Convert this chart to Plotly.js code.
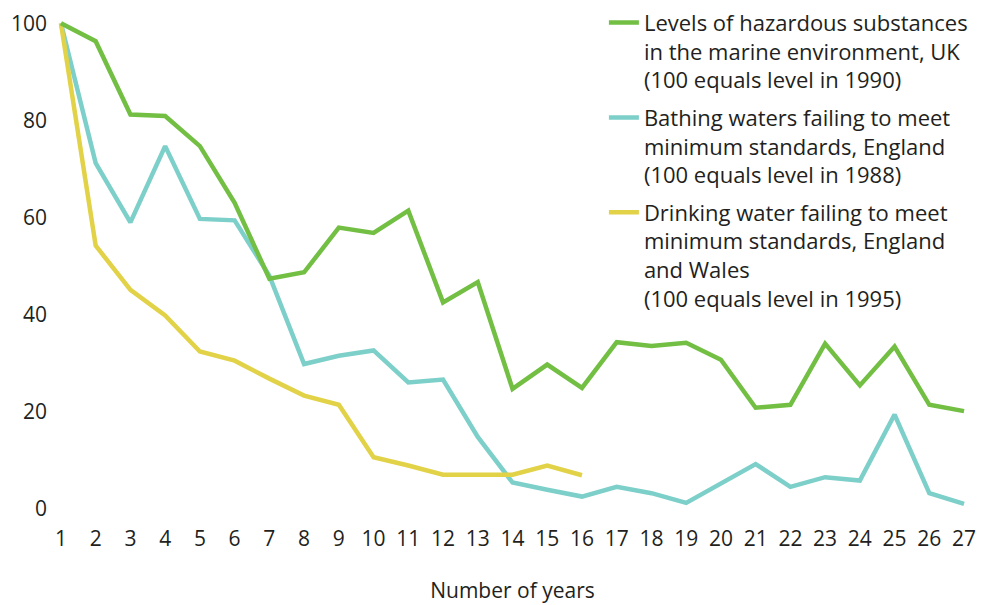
<!DOCTYPE html>
<html>
<head>
<meta charset="utf-8">
<script src="https://cdn.plot.ly/plotly-3.0.1.min.js"></script>
<style>html,body{margin:0;padding:0;background:#fff;}#chart{width:990px;height:605px;}</style>
</head>
<body>
<div id="chart"></div>
<script>
const years = [1,2,3,4,5,6,7,8,9,10,11,12,13,14,15,16,17,18,19,20,21,22,23,24,25,26,27];
const hazardous = [100, 96.3, 81.2, 80.9, 74.7, 63.0, 47.4, 48.7, 57.9, 56.8, 61.4, 42.5, 46.7, 24.7, 29.7, 24.9, 34.3, 33.5, 34.2, 30.7, 20.8, 21.4, 34.0, 25.4, 33.4, 21.4, 20.1];
const bathing = [100, 71.2, 59.0, 74.7, 59.7, 59.4, 48.0, 29.8, 31.5, 32.6, 26.0, 26.6, 14.8, 5.4, 3.9, 2.5, 4.5, 3.2, 1.2, 5.2, 9.2, 4.5, 6.5, 5.8, 19.4, 3.2, 1.0];
const drinking = [100, 54.2, 45.1, 39.8, 32.4, 30.5, 26.8, 23.3, 21.4, 10.6, 8.9, 7.0, 7.0, 7.0, 8.9, 6.9];
const seriesNames = [
  "Levels of hazardous substances<br>in the marine environment, UK<br>(100 equals level in 1990)",
  "Bathing waters failing to meet<br>minimum standards, England<br>(100 equals level in 1988)",
  "Drinking water failing to meet<br>minimum standards, England<br>and Wales<br>(100 equals level in 1995)"
];
const yTicks = [0, 20, 40, 60, 80, 100];

const FONT = "'Open Sans', Lato, sans-serif";
const TXT = "#231f20";

const traces = [
  {x: years, y: bathing, name: seriesNames[1], legendrank: 2, mode: "lines",
   line: {color: "#7dcfc9", width: 4.5}, legendgroup: "b"},
  {x: years.slice(0, drinking.length), y: drinking, name: seriesNames[2], legendrank: 3, mode: "lines",
   line: {color: "#e2d247", width: 4.5}, legendgroup: "c"},
  {x: years, y: hazardous, name: seriesNames[0], legendrank: 1, mode: "lines",
   line: {color: "#72bf44", width: 4.5}, legendgroup: "a"}
];

const layout = {
  width: 990, height: 605,
  margin: {l: 54, r: 19, t: 16, b: 89, autoexpand: false},
  paper_bgcolor: "#fff", plot_bgcolor: "#fff",
  font: {family: FONT, size: 21, color: TXT},
  showlegend: true,
  legend: {
    xref: "container", yref: "container",
    x: 0.610, y: 0.997, xanchor: "left", yanchor: "top",
    valign: "top", tracegroupgap: 6, maxheight: 1,
    font: {family: FONT, size: 22, color: TXT},
    bgcolor: "rgba(0,0,0,0)"
  },
  xaxis: {
    range: [0.8, 27.2], tickmode: "array", tickvals: years, ticktext: years.map(String),
    tickangle: 0, automargin: false,
    showgrid: false, zeroline: false, showline: false, ticks: "",
    ticklabelstandoff: 8,
    tickfont: {family: FONT, size: 21, color: TXT},
    title: {text: "Number of years", standoff: 32, font: {family: FONT, size: 21, color: TXT}}
  },
  yaxis: {
    range: [-1.5, 101.5], tickmode: "array", tickvals: yTicks, ticktext: yTicks.map(String),
    automargin: false,
    showgrid: false, zeroline: false, showline: false, ticks: "",
    ticklabelstandoff: 6,
    tickfont: {family: FONT, size: 21, color: TXT}
  }
};

Plotly.newPlot("chart", traces, layout, {displayModeBar: false, staticPlot: true});
</script>
</body>
</html>
